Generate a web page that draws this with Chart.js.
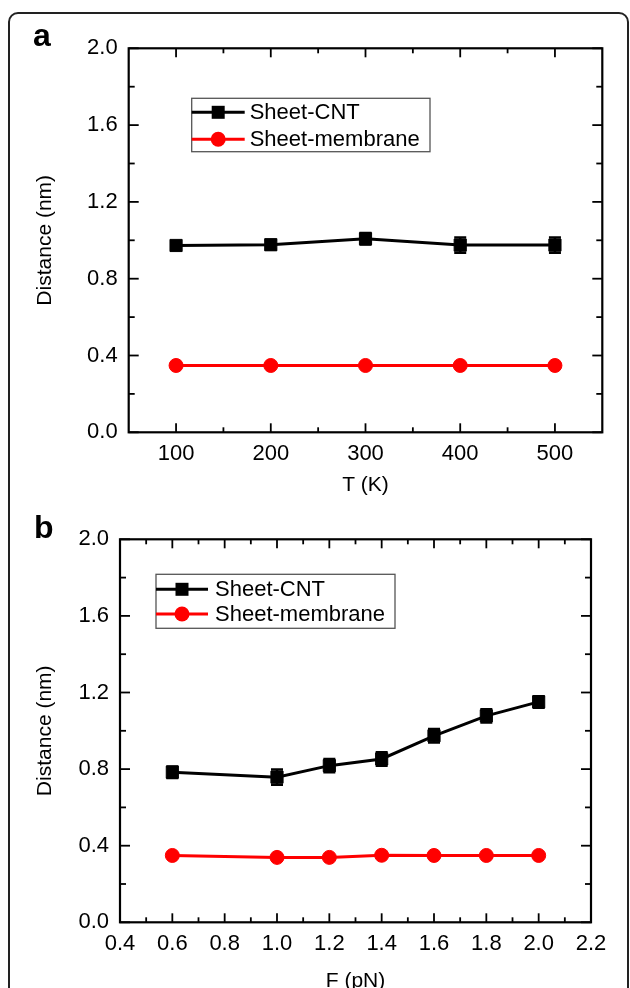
<!DOCTYPE html>
<html>
<head>
<meta charset="utf-8">
<title>Sheet distance vs T and F</title>
<script src="https://cdn.jsdelivr.net/npm/chart.js@4.4.1/dist/chart.umd.min.js"></script>
<style>
    html, body { margin: 0; padding: 0; overflow: hidden; background: #fff; width: 630px; height: 988px; }
    #frame { position: absolute; left: 8px; top: 12px; width: 617px; height: 1100px; border: 2px solid #222; border-radius: 10px; }
    .panel { position: absolute; left: 0; }
    #panelA { top: 0; }
    #panelB { top: 500px; }
</style>
</head>
<body>
<div id="frame"></div>
<canvas id="panelA" class="panel" width="630" height="500"></canvas>
<canvas id="panelB" class="panel" width="630" height="510"></canvas>
<script>
// ---- shared ----
const seriesNames = ['Sheet-CNT', 'Sheet-membrane'];
const distanceTicks = [0.0, 0.4, 0.8, 1.2, 1.6, 2.0];

// ---- panel a: distance vs temperature ----
const tempK = [100, 200, 300, 400, 500];
const cntByTemp = [0.973, 0.977, 1.008, 0.975, 0.975];
const cntByTempErr = [0.0, 0.025, 0.03, 0.04, 0.04];
const membraneByTemp = [0.348, 0.348, 0.348, 0.348, 0.348];
const tempTicks = [100, 200, 300, 400, 500];

// ---- panel b: distance vs force ----
const forcePN = [0.6, 1.0, 1.2, 1.4, 1.6, 1.8, 2.0];
const cntByForce = [0.784, 0.758, 0.818, 0.853, 0.974, 1.078, 1.151];
const cntByForceErr = [0.03, 0.04, 0.035, 0.035, 0.035, 0.035, 0.03];
const membraneByForce = [0.349, 0.339, 0.339, 0.350, 0.349, 0.349, 0.349];
const forceTicks = [0.4, 0.6, 0.8, 1.0, 1.2, 1.4, 1.6, 1.8, 2.0, 2.2];

const FONT = '"Liberation Sans", Arial, sans-serif';

/**
 * Error bars (drawn from dataset.errors through the y scale)
 */
const errorBarPlugin = {
    id: 'errorBars',
    afterDatasetsDraw(chart) {
        const ctx = chart.ctx;
        const yScale = chart.scales.y;
        chart.data.datasets.forEach((ds, i) => {
            if (!ds.errors) return;
            const meta = chart.getDatasetMeta(i);
            ctx.save();
            ctx.strokeStyle = ds.borderColor;
            ctx.lineWidth = 2.5;
            meta.data.forEach((pt, j) => {
                const err = ds.errors[j];
                if (!err) return;
                const v = ds.data[j].y;
                const yTop = yScale.getPixelForValue(v + err);
                const yBot = yScale.getPixelForValue(v - err);
                ctx.beginPath();
                ctx.moveTo(pt.x, yTop);
                ctx.lineTo(pt.x, yBot);
                ctx.moveTo(pt.x - 6, yTop);
                ctx.lineTo(pt.x + 6, yTop);
                ctx.moveTo(pt.x - 6, yBot);
                ctx.lineTo(pt.x + 6, yBot);
                ctx.stroke();
            });
            ctx.restore();
        });
    }
};

/**
 * Box around the plot + inward major/minor ticks on all four sides
 */
const frameTicksPlugin = {
    id: 'frameTicks',
    afterDraw(chart) {
        const { ctx, chartArea: a } = chart;
        const xs = chart.scales.x;
        const ys = chart.scales.y;
        const line = (x1, y1, x2, y2) => {
            ctx.beginPath();
            ctx.moveTo(x1, y1);
            ctx.lineTo(x2, y2);
            ctx.stroke();
        };
        const withMinors = (ticks) => {
            const out = [];
            ticks.forEach((t, i) => {
                out.push({ v: t.value, major: true });
                if (i < ticks.length - 1) {
                    out.push({ v: (t.value + ticks[i + 1].value) / 2, major: false });
                }
            });
            return out;
        };

        ctx.save();
        ctx.strokeStyle = '#000';
        ctx.lineWidth = 1.8;
        withMinors(xs.ticks).forEach(t => {
            const px = xs.getPixelForValue(t.v);
            const len = t.major ? 9 : 5;
            line(px, a.bottom, px, a.bottom - len);
            line(px, a.top, px, a.top + len);
        });
        withMinors(ys.ticks).forEach(t => {
            const py = ys.getPixelForValue(t.v);
            const len = t.major ? 10 : 6;
            line(a.left, py, a.left + len, py);
            line(a.right, py, a.right - len, py);
        });
        ctx.lineWidth = 2.2;
        ctx.strokeRect(a.left, a.top, a.right - a.left, a.bottom - a.top);
        ctx.restore();
    }
};

/**
 * Panel letter and boxed legend
 */
const panelDecorPlugin = {
    id: 'panelDecor',
    afterDraw(chart, args, opts) {
        const ctx = chart.ctx;
        ctx.save();
        ctx.fillStyle = '#000';
        ctx.font = 'bold 32px ' + FONT;
        ctx.textBaseline = 'alphabetic';
        ctx.fillText(opts.letter, opts.letterX, opts.letterY);

        const box = opts.legend;
        ctx.strokeStyle = '#555';
        ctx.lineWidth = 1.3;
        ctx.strokeRect(box.left, box.top, box.width, box.height);

        ctx.font = '22px ' + FONT;
        ctx.textBaseline = 'middle';
        chart.data.datasets.forEach((ds, i) => {
            const y = box.top + box.rows[i];
            ctx.strokeStyle = ds.borderColor;
            ctx.lineWidth = 3;
            ctx.beginPath();
            ctx.moveTo(box.left, y);
            ctx.lineTo(box.left + box.sample, y);
            ctx.stroke();

            const mx = box.left + box.sample / 2;
            ctx.fillStyle = ds.backgroundColor;
            if (ds.pointStyle === 'rect') {
                ctx.fillRect(mx - 6.5, y - 6.5, 13, 13);
            } else {
                ctx.beginPath();
                ctx.arc(mx, y, 7.5, 0, Math.PI * 2);
                ctx.fill();
            }
            ctx.fillStyle = '#000';
            ctx.fillText(ds.label, box.left + box.textOffset, y + 1);
        });
        ctx.restore();
    }
};

/**
 * Build the two datasets for one panel
 */
function buildDatasets(xs, cnt, cntErr, membrane) {
    return [
        {
            label: seriesNames[0],
            data: xs.map((x, i) => ({ x: x, y: cnt[i] })),
            errors: cntErr,
            borderColor: '#000',
            backgroundColor: '#000',
            borderWidth: 3,
            pointStyle: 'rect',
            pointRadius: 8.6,
            pointBorderWidth: 1,
            showLine: true
        },
        {
            label: seriesNames[1],
            data: xs.map((x, i) => ({ x: x, y: membrane[i] })),
            borderColor: '#ff0000',
            backgroundColor: '#ff0000',
            borderWidth: 3,
            pointStyle: 'circle',
            pointRadius: 7,
            pointBorderWidth: 1,
            showLine: true
        }
    ];
}

/**
 * Create one panel chart
 */
function makePanel(canvasId, setup) {
    const ctx = document.getElementById(canvasId);
    const tickFont = { family: FONT, size: 22 };
    const titleFont = { family: FONT, size: 21 };

    return new Chart(ctx, {
        type: 'scatter',
        data: { datasets: setup.datasets },
        options: {
            responsive: false,
            animation: false,
            events: [],
            layout: { padding: setup.padding },
            plugins: {
                legend: { display: false },
                tooltip: { enabled: false },
                panelDecor: setup.decor
            },
            scales: {
                x: {
                    type: 'linear',
                    min: setup.xMin,
                    max: setup.xMax,
                    afterBuildTicks: s => { s.ticks = setup.xTicks.map(v => ({ value: v })); },
                    afterFit: s => { s.height = setup.xHeight; },
                    grid: { display: false, drawTicks: false },
                    border: { display: false },
                    ticks: {
                        font: tickFont,
                        color: '#000',
                        padding: 8,
                        autoSkip: false,
                        maxRotation: 0,
                        callback: setup.xLabel
                    },
                    title: {
                        display: true,
                        text: setup.xTitle,
                        font: titleFont,
                        color: '#000',
                        padding: { top: 0, bottom: setup.xTitlePad }
                    }
                },
                y: {
                    type: 'linear',
                    min: 0,
                    max: 2.0,
                    afterBuildTicks: s => { s.ticks = distanceTicks.map(v => ({ value: v })); },
                    afterFit: s => { s.width = setup.yWidth; },
                    grid: { display: false, drawTicks: false },
                    border: { display: false },
                    ticks: {
                        font: tickFont,
                        color: '#000',
                        padding: 11,
                        callback: v => v.toFixed(1)
                    },
                    title: {
                        display: true,
                        text: 'Distance (nm)',
                        font: titleFont,
                        color: '#000',
                        padding: { top: 33, bottom: 0 }
                    }
                }
            }
        },
        plugins: [errorBarPlugin, frameTicksPlugin, panelDecorPlugin]
    });
}

makePanel('panelA', {
    datasets: buildDatasets(tempK, cntByTemp, cntByTempErr, membraneByTemp),
    padding: { left: 0, right: 27.7, top: 48.3, bottom: 0 },
    xMin: 50, xMax: 550,
    xTicks: tempTicks,
    xLabel: v => String(v),
    xTitle: 'T (K)',
    xTitlePad: 2,
    xHeight: 67.7,
    yWidth: 128.7,
    decor: {
        letter: 'a', letterX: 33, letterY: 46,
        legend: { left: 191.7, top: 98.3, width: 238.3, height: 53.4, rows: [14, 41], sample: 53, textOffset: 58 }
    }
});

makePanel('panelB', {
    datasets: buildDatasets(forcePN, cntByForce, cntByForceErr, membraneByForce),
    padding: { left: 0, right: 39, top: 39.3, bottom: 0 },
    xMin: 0.4, xMax: 2.2,
    xTicks: forceTicks,
    xLabel: v => v.toFixed(1),
    xTitle: 'F (pN)',
    xTitlePad: 16,
    xHeight: 87.7,
    yWidth: 120,
    decor: {
        letter: 'b', letterX: 34, letterY: 38,
        legend: { left: 156, top: 74.3, width: 239, height: 54, rows: [15, 39.7], sample: 52, textOffset: 59 }
    }
});
</script>
</body>
</html>
